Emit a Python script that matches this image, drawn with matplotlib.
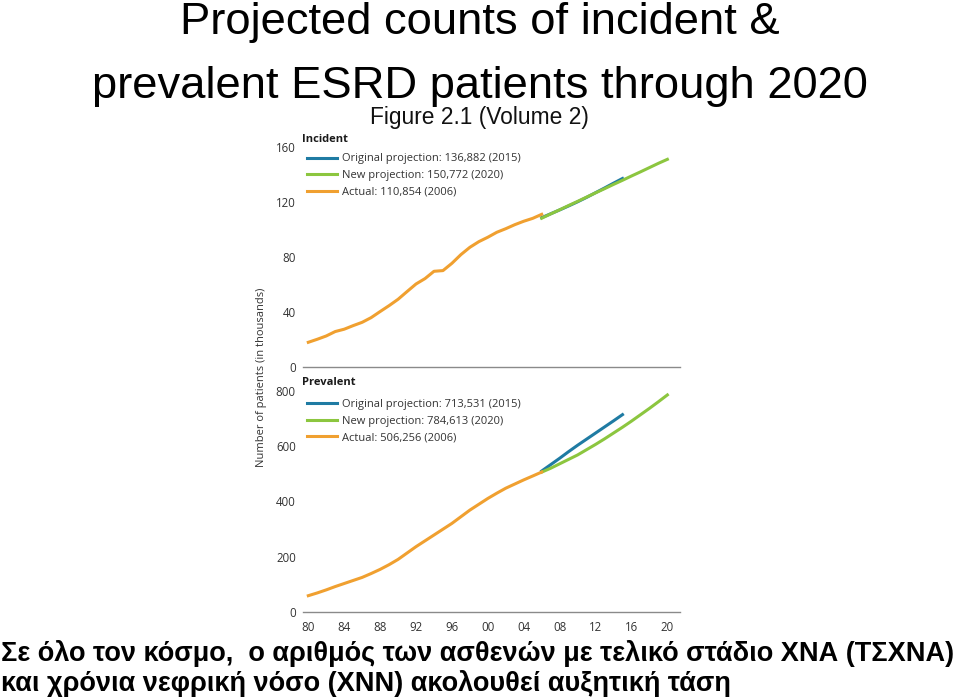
import numpy as np
from matplotlib import pyplot as plt
from matplotlib.lines import Line2D

# data (thousands of patients)
years_actual = list(range(1980, 2007))
years_orig = list(range(2006, 2016))
years_new = list(range(2006, 2021))

inc_actual = [18.1, 20.3, 22.7, 25.9, 27.6, 30.2, 32.6, 36.0, 40.4, 44.7,
              49.3, 54.9, 60.4, 64.3, 69.6, 70.1, 75.4, 81.7, 87.0, 91.1,
              94.3, 97.9, 100.5, 103.4, 105.9, 108.0, 110.9]
inc_orig = [108.5, 111.3, 114.1, 117.0, 120.0, 123.2, 126.6, 130.0, 133.5, 136.9]
inc_new = [108.1, 111.2, 114.2, 117.3, 120.3, 123.4, 126.5, 129.5, 132.6, 135.6,
           138.7, 141.7, 144.8, 147.9, 150.8]

prev_actual = [60, 70, 81, 93, 104, 115, 126, 140, 155, 172,
               191, 214, 237, 258, 279, 300, 321, 345, 369, 390,
               411, 430, 448, 463, 478, 492, 506.3]
prev_orig = [510, 533, 556, 580, 603, 625, 647, 669, 691, 713.5]
prev_new = [506, 520, 536, 552, 568, 587, 606, 626, 647, 668,
            690, 713, 736, 760, 784.6]

inc_labels = ['Original projection: 136,882 (2015)',
              'New projection: 150,772 (2020)',
              'Actual: 110,854 (2006)']
prev_labels = ['Original projection: 713,531 (2015)',
               'New projection: 784,613 (2020)',
               'Actual: 506,256 (2006)']

xticks = [1980, 1984, 1988, 1992, 1996, 2000, 2004, 2008, 2012, 2016, 2020]
xticklabels = ['80', '84', '88', '92', '96', '00', '04', '08', '12', '16', '20']

c_blue = '#1f7ba3'
c_green = '#8cc63f'
c_orange = '#f0a030'
chart_font = 'Open Sans'

fig = plt.figure(figsize=(9.59, 6.97), dpi=100)

ax1 = fig.add_axes([0.3156, 0.4731, 0.3934, 0.3165])
ax2 = fig.add_axes([0.3156, 0.1215, 0.3934, 0.3180])


def panel(ax, actual, orig, new, yticks, labels, title, title_y, legend_y):
    ax.plot(years_orig, orig, color=c_blue, lw=2.2, zorder=2)
    ax.plot(years_new, new, color=c_green, lw=2.2, zorder=3)
    ax.plot(years_actual, actual, color=c_orange, lw=2.2, zorder=4)
    ax.set_xlim(1979.37, 2021.4)
    ax.set_ylim(0, yticks[-1])
    ax.set_yticks(yticks)
    ax.set_yticklabels([str(t) for t in yticks], fontsize=8.3, family=chart_font,
                       color='#333333')
    for s in ['top', 'right', 'left']:
        ax.spines[s].set_visible(False)
    ax.spines['bottom'].set_color('#8a8a8a')
    ax.spines['bottom'].set_linewidth(1.0)
    ax.tick_params(axis='y', length=0, pad=5)
    ax.tick_params(axis='x', length=0, pad=6)
    handles = [Line2D([], [], color=c_blue, lw=2.2),
               Line2D([], [], color=c_green, lw=2.2),
               Line2D([], [], color=c_orange, lw=2.2)]
    leg = ax.legend(handles, labels, loc='upper left',
                    bbox_to_anchor=(0.3201, legend_y), bbox_transform=fig.transFigure,
                    frameon=False, borderpad=0, borderaxespad=0,
                    handlelength=2.7, handletextpad=0.45, labelspacing=0.5,
                    prop={'family': chart_font, 'size': 8})
    for t in leg.get_texts():
        t.set_color('#333333')
    fig.text(0.3149, title_y, title, ha='left', va='center', fontsize=8,
             weight='bold', family=chart_font, color='#1a1a1a')


panel(ax1, inc_actual, inc_orig, inc_new, [0, 40, 80, 120, 160], inc_labels,
      'Incident', 1 - 139 / 697, 1 - 153.5 / 697)
ax1.set_xticks(xticks)
ax1.set_xticklabels([])

panel(ax2, prev_actual, prev_orig, prev_new, [0, 200, 400, 600, 800], prev_labels,
      'Prevalent', 1 - 383 / 697, 1 - 399 / 697)
ax2.set_xticks(xticks)
ax2.set_xticklabels(xticklabels, fontsize=8.3, family=chart_font, color='#333333')

fig.text(0.2725, 0.458, 'Number of patients (in thousands)', rotation=90,
         ha='center', va='center', fontsize=8, family=chart_font, color='#333333')

# slide text
fig.text(0.5, 0.951, 'Projected counts of incident &', ha='center',
         va='baseline', fontsize=32.7, family='Liberation Sans')
fig.text(0.5, 0.859, 'prevalent ESRD patients through 2020', ha='center',
         va='baseline', fontsize=32.7, family='Liberation Sans')
fig.text(0.5, 0.822, 'Figure 2.1 (Volume 2)', ha='center', va='baseline',
         fontsize=16.4, family='Liberation Sans', color='#111111')
fig.text(0.001, 0.051,
         'Σε όλο τον κόσμο,  ο αριθμός των ασθενών με τελικό στάδιο ΧΝΑ (ΤΣΧΝΑ)',
         ha='left', va='baseline', fontsize=19.5, weight='bold',
         family='Liberation Sans')
fig.text(0.001, 0.008,
         'και χρόνια νεφρική νόσο (ΧΝΝ) ακολουθεί αυξητική τάση',
         ha='left', va='baseline', fontsize=19.5, weight='bold',
         family='Liberation Sans')

fig.savefig('out.png', dpi=100)
